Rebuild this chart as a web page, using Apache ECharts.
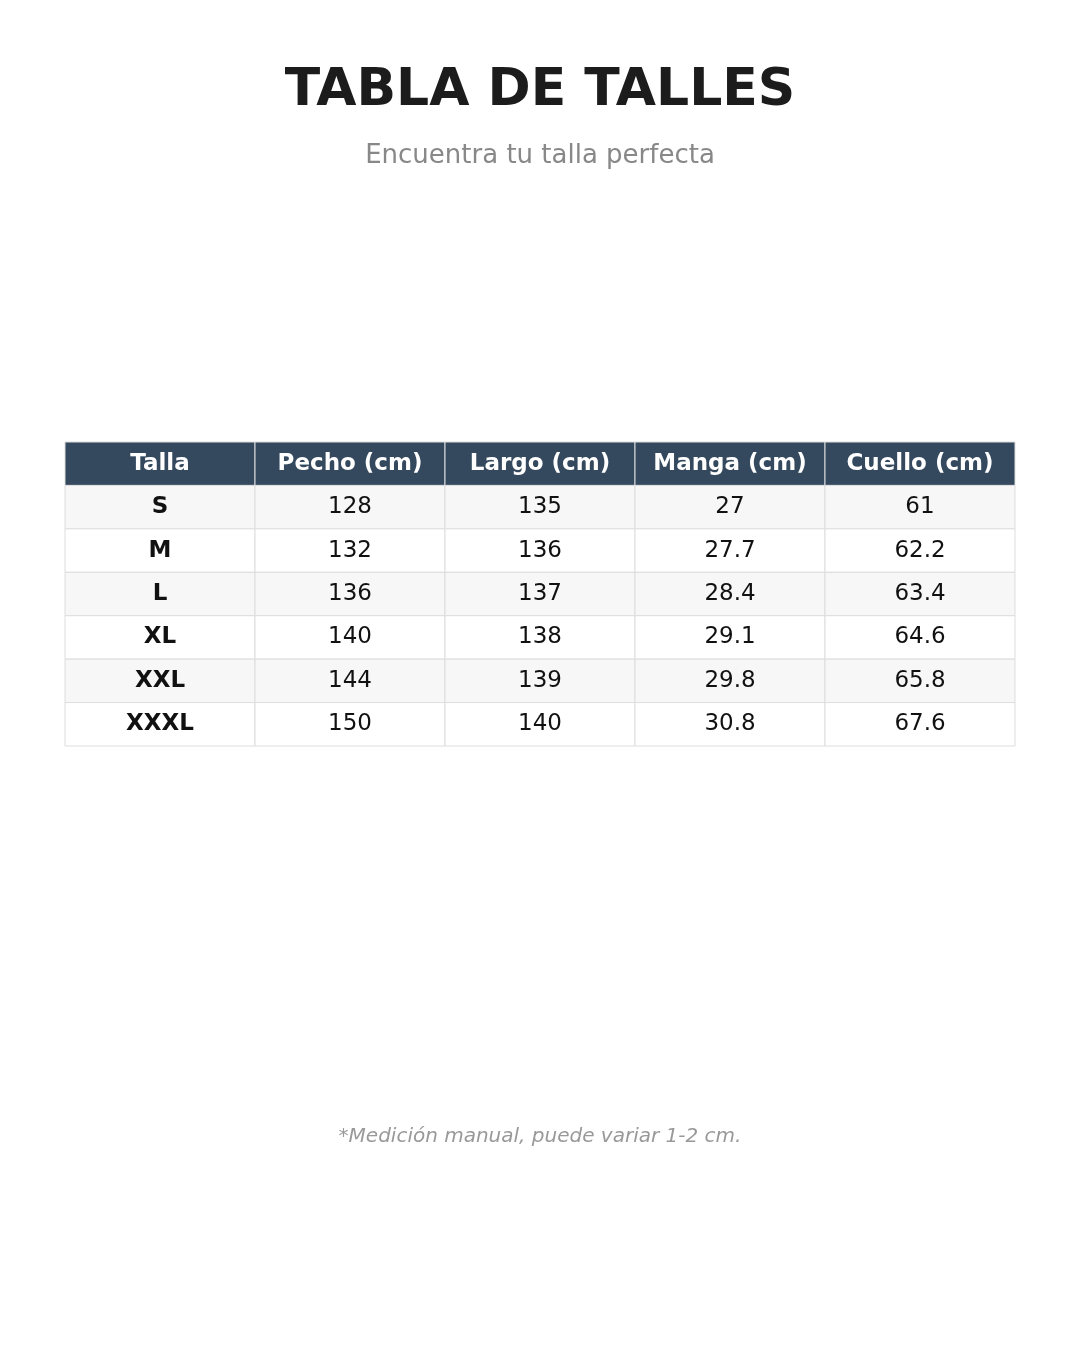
<!DOCTYPE html>
<html>
<head>
<meta charset="utf-8">
<style>
  html, body { margin: 0; padding: 0; background: #ffffff; }
  #chart { width: 1080px; height: 1350px; }
</style>
<script src="https://cdn.jsdelivr.net/npm/echarts@6/dist/echarts.min.js"></script>
</head>
<body>
<div id="chart"></div>
<script>
const headers = ['Talla', 'Pecho (cm)', 'Largo (cm)', 'Manga (cm)', 'Cuello (cm)'];
const sizes = ['S', 'M', 'L', 'XL', 'XXL', 'XXXL'];
const pecho = [128, 132, 136, 140, 144, 150];
const largo = [135, 136, 137, 138, 139, 140];
const manga = [27, 27.7, 28.4, 29.1, 29.8, 30.8];
const cuello = [61, 62.2, 63.4, 64.6, 65.8, 67.6];

const columns = [sizes, pecho, largo, manga, cuello];
const rowNames = ['header'].concat(sizes);

// celdas: [columna, fila, texto]
const cells = [];
headers.forEach((h, c) => cells.push([c, 0, h]));
sizes.forEach((s, r) => {
  columns.forEach((col, c) => cells.push([c, r + 1, String(col[r])]));
});

const myChart = echarts.init(document.getElementById('chart'));
const font = 'DejaVu Sans, sans-serif';

myChart.setOption({
  animation: false,
  title: [
    {
      text: 'TABLA DE TALLES',
      left: 'center', top: 60,
      textStyle: { fontFamily: font, fontSize: 52, fontWeight: 'bold', color: '#1c1c1c' }
    },
    {
      text: 'Encuentra tu talla perfecta',
      left: 'center', top: 138,
      textStyle: { fontFamily: font, fontSize: 26, fontWeight: 'normal', color: '#888888' }
    },
    {
      text: '*Medición manual, puede variar 1-2 cm.',
      left: 'center', top: 1122,
      textStyle: { fontFamily: font, fontSize: 20, fontWeight: 'normal', fontStyle: 'italic', color: '#999999' }
    }
  ],
  grid: { left: 65, right: 65, top: 442, height: 304 },
  xAxis: { type: 'category', data: headers, show: false },
  yAxis: { type: 'category', data: rowNames, inverse: true, show: false },
  series: [{
    type: 'custom',
    data: cells,
    renderItem: function (params, api) {
      const c = api.value(0), r = api.value(1);
      const pt = api.coord([c, r]);
      const sz = api.size([1, 1]);
      const w = sz[0], h = sz[1];
      const isHead = r === 0;
      const fill = isHead ? '#34495e' : (r % 2 === 1 ? '#f7f7f7' : '#ffffff');
      return {
        type: 'group',
        children: [
          {
            type: 'rect',
            shape: { x: pt[0] - w / 2, y: pt[1] - h / 2, width: w, height: h },
            style: { fill: fill, stroke: '#dddddd', lineWidth: 1 }
          },
          {
            type: 'text',
            style: {
              x: pt[0], y: pt[1],
              text: cells[params.dataIndex][2],
              align: 'center', verticalAlign: 'middle',
              fontFamily: font, fontSize: 23,
              fontWeight: (isHead || c === 0) ? 'bold' : 'normal',
              fill: isHead ? '#ffffff' : '#111111'
            }
          }
        ]
      };
    }
  }]
});
</script>
</body>
</html>
